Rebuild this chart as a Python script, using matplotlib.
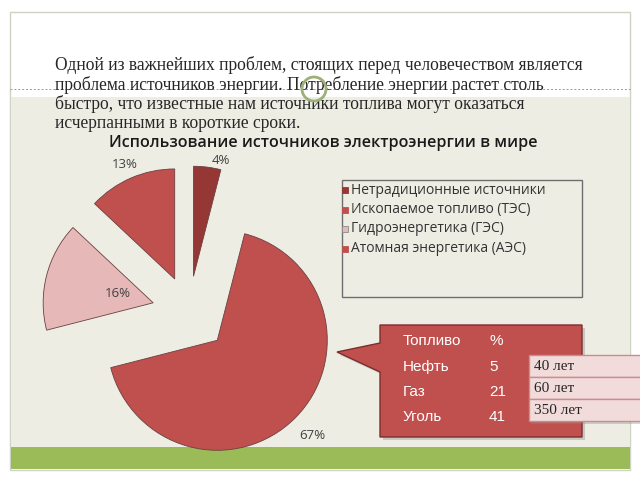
import matplotlib
matplotlib.use("Agg")
import matplotlib.pyplot as plt
import numpy as np
from matplotlib.patches import Rectangle, Polygon, Circle

# ---------------- data ----------------
categories = ['Нетрадиционные источники', 'Ископаемое топливо (ТЭС)',
              'Гидроэнергетика (ГЭС)', 'Атомная энергетика (АЭС)']
shares = [4, 67, 16, 13]
title = 'Использование источников электроэнергии в мире'
paragraph = ['Одной из важнейших проблем, стоящих перед человечеством является',
             'проблема источников энергии. Потребление энергии растет столь',
             'быстро, что известные нам источники топлива могут оказаться',
             'исчерпанными в короткие сроки.']
table_header = ['Топливо', '%']
fuels = ['Нефть', 'Газ', 'Уголь']
fuel_pct = [5, 21, 41]
reserves = ['40 лет', '60 лет', '350 лет']

# ---------------- style ----------------
pie_colors = ['#953735', '#C0504D', '#E6B9B8', '#C0504D']
beige = '#EEEDE4'
green = '#9BBB59'

fig = plt.figure(figsize=(6.4, 4.8), dpi=100)
fig.patch.set_facecolor('white')

# background axes in pixel coordinates
bg = fig.add_axes([0, 0, 1, 1])
bg.set_xlim(0, 640)
bg.set_ylim(480, 0)
bg.axis('off')

bg.add_patch(Rectangle((10, 12), 620, 458, facecolor='white', edgecolor='#CDD3C2', lw=1.0, zorder=0))
bg.add_patch(Rectangle((10.5, 97), 619, 351, facecolor=beige, edgecolor='none', zorder=1))
bg.add_patch(Rectangle((10.5, 447), 619, 22, facecolor=green, edgecolor='none', zorder=1))
bg.plot([10, 630], [89, 89], ls=(0, (2, 2)), color='#9A9A9A', lw=0.7, zorder=2)

# paragraph
for i, line in enumerate(paragraph):
    bg.text(55, 65 + i * 19.6, line, fontsize=12.65, family='Liberation Serif',
            color='#262626', va='center', ha='left', zorder=5)

# cursor highlight circle
bg.add_patch(Circle((314, 89), 12, facecolor='none', edgecolor='#9DB07A', lw=2.0, zorder=6))

# chart title
bg.text(323, 143, title, fontsize=11.6, family='Open Sans', weight='semibold',
        color='#1A1A1A', ha='center', va='center', zorder=5)

# legend box
bg.add_patch(Rectangle((342, 180), 240, 117, facecolor=beige, edgecolor='#6E6E6E', lw=1.0, zorder=3))
for i, (c, col) in enumerate(zip(categories, pie_colors)):
    y = 190 + i * 19.5
    bg.add_patch(Rectangle((342, y - 3), 6, 6, facecolor=col,
                           edgecolor='#8A8A8A' if i == 2 else col, lw=0.6, zorder=4))
    bg.text(351, y, c, fontsize=10, family='Open Sans', color='#333333',
            va='center', ha='left', zorder=5)

# callout with table
shadow = Polygon([(383, 328), (585, 328), (585, 440), (383, 440), (383, 375), (340, 355), (383, 346)],
                 closed=True, facecolor='#9A9A9A', alpha=0.45, edgecolor='none', zorder=3)
bg.add_patch(shadow)
callout = Polygon([(380, 325), (582, 325), (582, 437), (380, 437), (380, 372), (337, 352), (380, 343)],
                  closed=True, facecolor='#C0504D', edgecolor='#7A2E2C', lw=1.0, zorder=4)
bg.add_patch(callout)
row_y = [341, 367, 392, 417]
bg.text(403, row_y[0], table_header[0], fontsize=11, family='Liberation Sans', color='white', va='center', zorder=6)
bg.text(489, row_y[0], table_header[1], fontsize=11, family='Liberation Sans', color='white', va='center', zorder=6)
for i, (f, p) in enumerate(zip(fuels, fuel_pct)):
    bg.text(403, row_y[i + 1], f, fontsize=11, family='Liberation Sans', color='white', va='center', zorder=6)
    bg.text(489, row_y[i + 1], str(p), fontsize=11, family='Liberation Sans', color='white', va='center', zorder=6)

# pink reserve boxes
box_top = [355, 377, 399]
bg.add_patch(Rectangle((531, 357), 112, 67, facecolor='#8A8A8A', alpha=0.35, edgecolor='none', zorder=6))
for i, r in enumerate(reserves):
    bg.add_patch(Rectangle((529, box_top[i]), 115, 22, facecolor='#F2DCDB',
                           edgecolor='#C98E8C', lw=1.0, zorder=7))
    bg.text(534, box_top[i] + 11, r, fontsize=11, family='Liberation Serif',
            color='#262626', va='center', ha='left', zorder=8)

# ---------------- pie ----------------
cx, cy, half = 189, 312, 150
pax = fig.add_axes([(cx - half) / 640, 1 - (cy + half) / 480, 2 * half / 640, 2 * half / 480])
pax.patch.set_alpha(0)

wedges, _ = pax.pie(shares, colors=pie_colors, radius=1.1, startangle=90, counterclock=False,
                    explode=[0.36, 0.40, 0.37, 0.36],
                    wedgeprops=dict(edgecolor='#6A4040', linewidth=0.6))
pax.set_xlim(-1.5, 1.5)
pax.set_ylim(-1.5, 1.5)
pax.set_aspect('equal')
pax.axis('off')

label_r = [1.19, 1.34, 0.36, 1.25]
label_dang = [-6, 0, 0, 0]
for w, s, r, da in zip(wedges, shares, label_r, label_dang):
    ang = np.deg2rad((w.theta1 + w.theta2) / 2 + da)
    x0, y0 = w.center
    pax.text(x0 + r * np.cos(ang), y0 + r * np.sin(ang), f'{s}%', fontsize=9.5,
             family='Open Sans', color='#404040', ha='center', va='center')

fig.savefig('out.png', dpi=100)
